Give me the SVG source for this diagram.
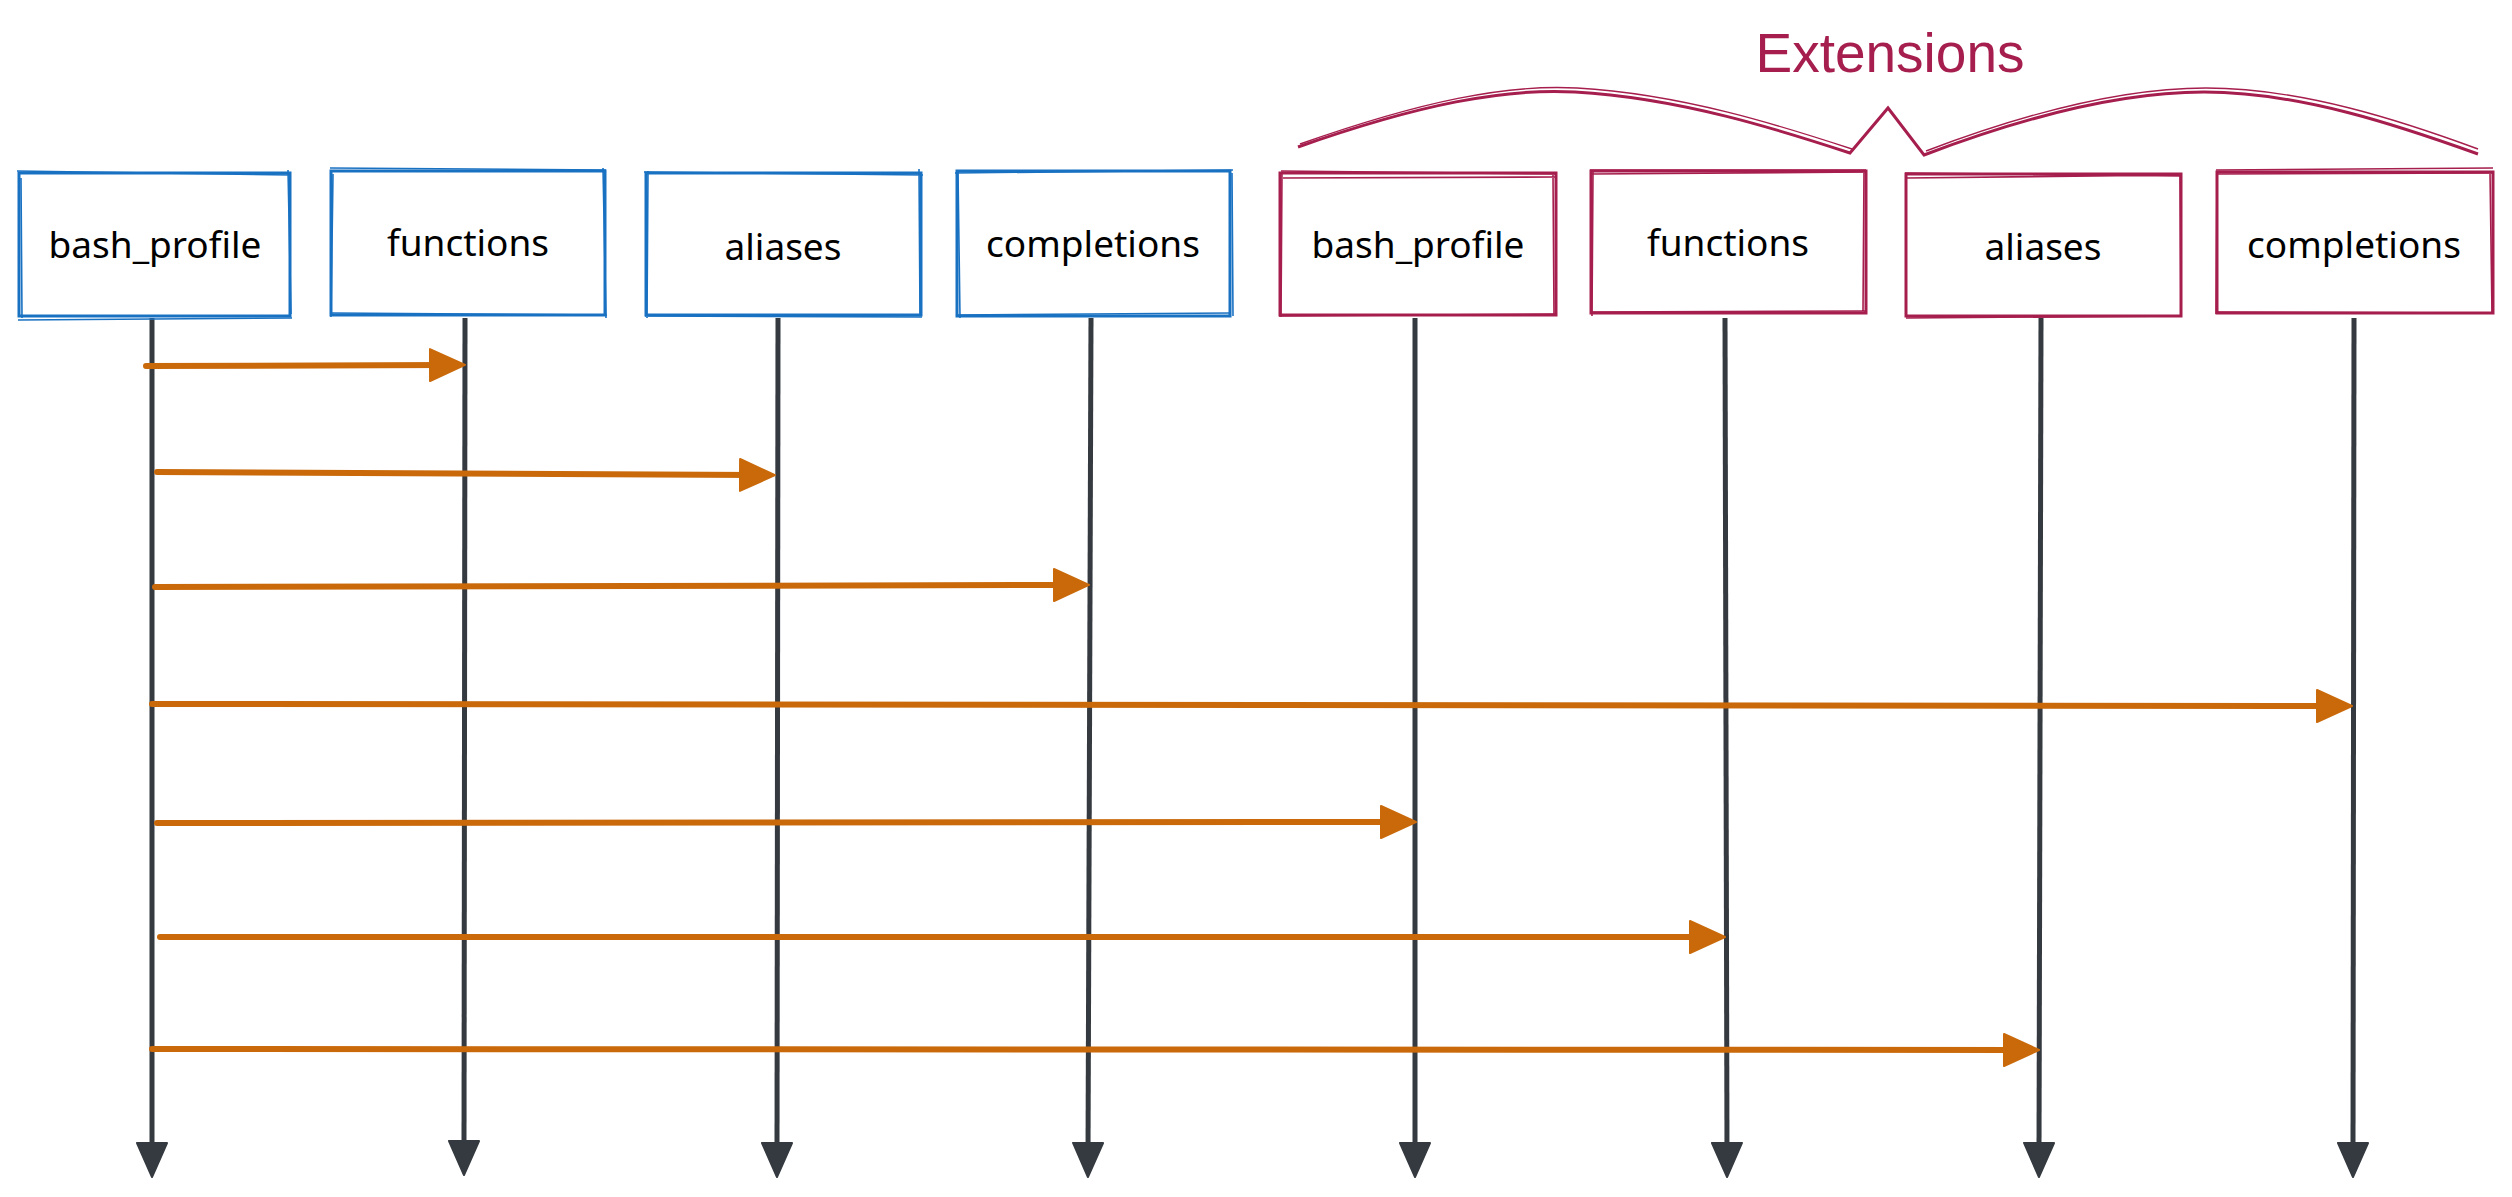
<svg xmlns="http://www.w3.org/2000/svg" width="2512" height="1197" viewBox="0 0 2512 1197">
<style>
  .bg{fill:#ffffff}
  .box rect{fill:#ffffff;stroke-width:3}
  .box path{fill:none;stroke-width:1.6}
  .blue rect,.blue path{stroke:#1971c2}
  .red rect,.red path{stroke:#a61e4d}
  .lbl{font-family:"Noto Sans","DejaVu Sans",sans-serif;font-size:37px;fill:#000000;text-anchor:middle;dominant-baseline:central}
  .life{stroke:#343a40;stroke-width:5;fill:none}
  .msg{stroke:#c9690a;stroke-width:6;fill:none;stroke-linecap:round}
  .brace{fill:none;stroke:#a61e4d;stroke-width:3;stroke-linejoin:miter}
  .brace2{fill:none;stroke:#a61e4d;stroke-width:1.4}
  .title{font-family:"Liberation Sans",Arial,sans-serif;font-size:55px;fill:#a61e4d;text-anchor:middle}
</style>
<defs>
  <marker id="life-head" markerUnits="userSpaceOnUse" markerWidth="40" markerHeight="36" refX="13" refY="17" orient="auto">
    <path d="M1,2 L35,17 L1,32 Z" fill="#343a40" stroke="#343a40" stroke-width="2" stroke-linejoin="round"/>
  </marker>
  <marker id="msg-head" markerUnits="userSpaceOnUse" markerWidth="40" markerHeight="38" refX="16" refY="18" orient="auto">
    <path d="M1,2 L36,18 L1,34 Z" fill="#c9690a" stroke="#c9690a" stroke-width="2" stroke-linejoin="round"/>
  </marker>
</defs>
<rect class="bg" x="0" y="0" width="2512" height="1197"/>

<g id="extensions-label">
  <text class="title" x="1890" y="72">Extensions</text>
  <path class="brace" d="M1298,147 C1420,104 1505,88 1575,92 C1680,98 1780,130 1850,153 L1888,108 L1924,155 C1995,128 2105,92 2204,92 C2300,92 2400,126 2478,154"/>
  <path class="brace2" d="M1300,144 C1422,101 1507,84 1577,88 C1682,94 1782,126 1852,149 M1926,151 C1997,124 2107,88 2206,88 C2302,88 2402,121 2478,149"/>
</g>

<g id="lifelines">
  <line class="life" x1="152" y1="318" x2="152" y2="1155" marker-end="url(#life-head)"/>
  <line class="life" x1="465" y1="318" x2="464" y2="1153" marker-end="url(#life-head)"/>
  <line class="life" x1="778" y1="318" x2="777" y2="1155" marker-end="url(#life-head)"/>
  <line class="life" x1="1091" y1="318" x2="1088" y2="1155" marker-end="url(#life-head)"/>
  <line class="life" x1="1415" y1="318" x2="1415" y2="1155" marker-end="url(#life-head)"/>
  <line class="life" x1="1725" y1="318" x2="1727" y2="1155" marker-end="url(#life-head)"/>
  <line class="life" x1="2041" y1="318" x2="2039" y2="1155" marker-end="url(#life-head)"/>
  <line class="life" x1="2354" y1="318" x2="2353" y2="1155" marker-end="url(#life-head)"/>
</g>

<g id="connectors">
  <line class="msg" x1="146" y1="366" x2="445" y2="365" marker-end="url(#msg-head)"/>
  <line class="msg" x1="157" y1="472" x2="755" y2="475" marker-end="url(#msg-head)"/>
  <line class="msg" x1="155" y1="587" x2="1069" y2="585" marker-end="url(#msg-head)"/>
  <line class="msg" x1="152" y1="704" x2="2332" y2="706" marker-end="url(#msg-head)"/>
  <line class="msg" x1="157" y1="823" x2="1396" y2="822" marker-end="url(#msg-head)"/>
  <line class="msg" x1="160" y1="937" x2="1705" y2="937" marker-end="url(#msg-head)"/>
  <line class="msg" x1="152" y1="1049" x2="2019" y2="1050" marker-end="url(#msg-head)"/>
</g>

<g id="node-bash-profile" class="box blue">
  <rect x="19" y="173" width="271" height="143"/>
  <path d="M17,171 L290,175 M21,178 L22,318 M288,170 L291,314 M18,320 L292,318"/>
  <text class="lbl" x="155" y="243">bash_profile</text>
</g>
<g id="node-functions" class="box blue">
  <rect x="331" y="171" width="274" height="144"/>
  <path d="M330,168 L606,170 M333,174 L331,317 M603,168 L606,318 M332,313 L607,315"/>
  <text class="lbl" x="468" y="241">functions</text>
</g>
<g id="node-aliases" class="box blue">
  <rect x="646" y="173" width="275" height="142"/>
  <path d="M644,172 L923,175 M648,171 L647,318 M919,169 L920,315 M645,316 L922,317"/>
  <text class="lbl" x="783" y="245">aliases</text>
</g>
<g id="node-completions" class="box blue">
  <rect x="957" y="171" width="273" height="145"/>
  <path d="M955,173 L1233,170 M958,172 L960,318 M1232,173 L1233,316 M957,315 L1231,313"/>
  <text class="lbl" x="1093" y="242">completions</text>
</g>

<g id="node-ext-bash-profile" class="box red">
  <rect x="1280" y="173" width="276" height="142"/>
  <path d="M1281,171 L1556,174 M1283,178 L1556,177 M1282,172 L1281,317 M1553,175 L1554,315 M1279,316 L1557,314"/>
  <text class="lbl" x="1418" y="243">bash_profile</text>
</g>
<g id="node-ext-functions" class="box red">
  <rect x="1591" y="171" width="275" height="142"/>
  <path d="M1590,170 L1866,170 M1592,174 L1866,172 M1593,172 L1592,316 M1864,170 L1863,313 M1592,312 L1867,311"/>
  <text class="lbl" x="1728" y="241">functions</text>
</g>
<g id="node-ext-aliases" class="box red">
  <rect x="1906" y="174" width="275" height="142"/>
  <path d="M1905,173 L2181,176 M1907,178 L2180,175 M1906,176 L1906,316 M2180,175 L2181,317 M1906,318 L2181,316"/>
  <text class="lbl" x="2043" y="245">aliases</text>
</g>
<g id="node-ext-completions" class="box red">
  <rect x="2217" y="172" width="276" height="141"/>
  <path d="M2216,170 L2493,168 M2218,174 L2492,173 M2217,172 L2216,314 M2490,172 L2492,313 M2217,312 L2493,313"/>
  <text class="lbl" x="2354" y="243">completions</text>
</g>
</svg>
